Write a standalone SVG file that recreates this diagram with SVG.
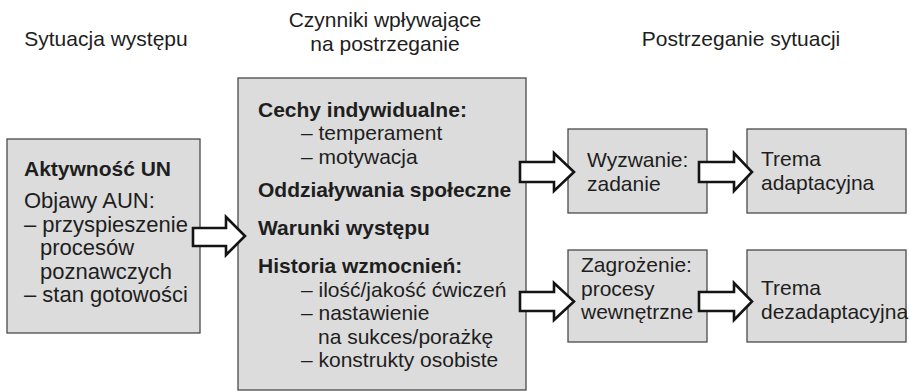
<svg xmlns="http://www.w3.org/2000/svg" width="910" height="391" viewBox="0 0 910 391">
<style>
.box{fill:#dcdcdc;stroke:#4a4a4a;stroke-width:1.3}
.arr{fill:#fff;stroke:#141414;stroke-width:2.6;stroke-linejoin:miter}
text{font-family:"Liberation Sans",Arial,sans-serif;font-size:21px;fill:#1e1e1e}
.b{font-weight:bold}
.l{font-size:22px}
</style>
<rect width="910" height="391" fill="#fff"/>
<g id="headings">
<text x="106" y="46" text-anchor="middle">Sytuacja występu</text>
<text x="385" y="27" text-anchor="middle">Czynniki wpływające</text>
<text x="385" y="51" text-anchor="middle">na postrzeganie</text>
<text x="741" y="46" text-anchor="middle">Postrzeganie sytuacji</text>
</g>
<g id="node-aun">
<rect class="box" x="7" y="139" width="193" height="194"/>
<text class="b" x="24" y="176">Aktywność UN</text>
<text class="l" x="24" y="208">Objawy AUN:</text>
<text class="l" x="24" y="231.5">– przyspieszenie</text>
<text class="l" x="40" y="255">procesów</text>
<text class="l" x="40" y="278.5">poznawczych</text>
<text class="l" x="24" y="302">– stan gotowości</text>
</g>
<g id="node-czynniki">
<rect class="box" x="238" y="78" width="288" height="312"/>
<text class="b" x="258" y="117">Cechy indywidualne:</text>
<text x="301" y="140">– temperament</text>
<text x="301" y="163.5">– motywacja</text>
<text class="b" x="258" y="197">Oddziaływania społeczne</text>
<text class="b" x="258" y="235">Warunki występu</text>
<text class="b" x="258" y="273">Historia wzmocnień:</text>
<text x="301" y="296.5">– ilość/jakość ćwiczeń</text>
<text x="301" y="320">– nastawienie</text>
<text x="318" y="343.5">na sukces/porażkę</text>
<text x="301" y="367">– konstrukty osobiste</text>
</g>
<g id="node-wyzwanie">
<rect class="box" x="568" y="129" width="139" height="84"/>
<text x="587" y="167">Wyzwanie:</text>
<text x="587" y="190.5">zadanie</text>
</g>
<g id="node-trema-adapt">
<rect class="box" x="747" y="129" width="159" height="84"/>
<text x="761" y="166">Trema</text>
<text x="761" y="189.5">adaptacyjna</text>
</g>
<g id="node-zagrozenie">
<rect class="box" x="568" y="250" width="139" height="92"/>
<text x="581" y="272">Zagrożenie:</text>
<text x="581" y="295.5">procesy</text>
<text x="581" y="319">wewnętrzne</text>
</g>
<g id="node-trema-dezadapt">
<rect class="box" x="747" y="250" width="159" height="92"/>
<text x="761" y="295">Trema</text>
<text x="761" y="318.5">dezadaptacyjna</text>
</g>
<g id="connectors">
<path class="arr" d="M193,228 L226,228 L226,217 L245,236 L226,255 L226,246 L193,246 Z"/>
<path class="arr" d="M520,162 L554,162 L554,153 L574,172 L554,191 L554,182 L520,182 Z"/>
<path class="arr" d="M520,292 L554,292 L554,283 L574,301.5 L554,320 L554,311 L520,311 Z"/>
<path class="arr" d="M699,162 L734,162 L734,153 L752,172 L734,191 L734,182 L699,182 Z"/>
<path class="arr" d="M699,292 L734,292 L734,283 L752,301.5 L734,320 L734,311 L699,311 Z"/>
</g>
</svg>
